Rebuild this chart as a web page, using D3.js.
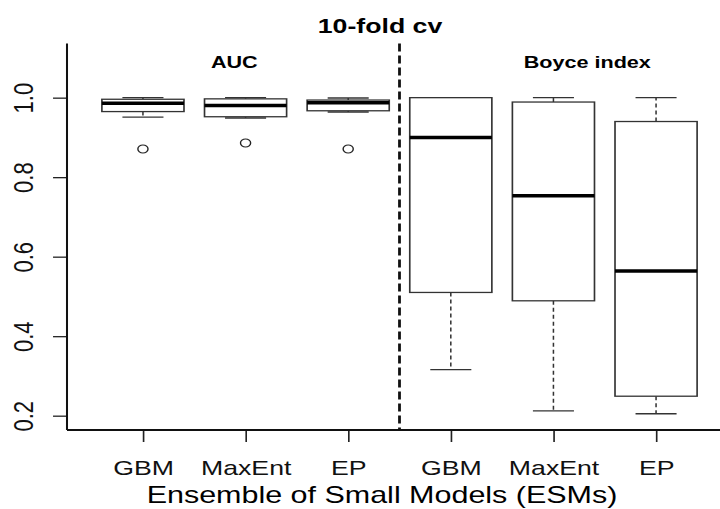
<!DOCTYPE html>
<html>
<head>
<meta charset="utf-8">
<script src="https://cdn.jsdelivr.net/npm/d3@7"></script>
<style>
  body { margin: 0; background: #fff; }
  svg { display: block; font-family: "Liberation Sans", Arial, Helvetica, sans-serif; }
  .tick line { stroke: #222; stroke-width: 1.3; }
  .tick text { fill: #111; }
</style>
</head>
<body>
<div id="chart"></div>
<script>
  // models along the x axis (AUC block, then Boyce index block)
  const models = ['GBM', 'MaxEnt', 'EP', 'GBM', 'MaxEnt', 'EP'];
  const blocks = ['AUC', 'Boyce index'];

  // box statistics
  const lowerWhisker = [0.951, 0.949, 0.964, 0.316, 0.212, 0.205];
  const q1           = [0.965, 0.952, 0.967, 0.510, 0.489, 0.249];
  const median       = [0.986, 0.980, 0.987, 0.900, 0.753, 0.564];
  const q3           = [0.996, 0.997, 0.994, 1.000, 0.989, 0.940];
  const upperWhisker = [1.000, 1.000, 0.999, 1.000, 1.000, 1.000];
  const outliers     = [[0.871], [0.886], [0.871], [], [], []];

  const yTicks = [0.2, 0.4, 0.6, 0.8, 1.0];

  const W = 720, H = 509;
  const SX = 1.27; // the original figure is stretched horizontally

  const boxes = models.map((m, i) => ({
    pos: i + 1, model: m,
    lo: lowerWhisker[i], q1: q1[i], med: median[i], q3: q3[i], hi: upperWhisker[i],
    out: outliers[i]
  }));

  const x = d3.scaleLinear().domain([0.26, 6.74]).range([67 / SX, 732 / SX]);
  const y = d3.scaleLinear().domain([0.164, 1.136]).range([430, 43.6]);

  const svg = d3.select('#chart').append('svg')
    .attr('width', W).attr('height', H);

  const g = svg.append('g').attr('transform', `scale(${SX},1)`);

  // y axis
  g.append('g')
    .attr('transform', `translate(${x(0.26)},0)`)
    .call(d3.axisLeft(y).tickValues(yTicks).tickFormat(d3.format('.1f')).tickSize(11))
    .call(a => a.select('.domain').remove())
    .call(a => a.selectAll('text')
      .attr('transform', 'rotate(-90)')
      .attr('text-anchor', 'middle')
      .attr('x', 0).attr('y', -26.5).attr('dy', 0)
      .style('font-size', '22px'));

  // x axis
  g.append('g')
    .attr('transform', `translate(0,${y(0.164)})`)
    .call(d3.axisBottom(x).tickValues(boxes.map(b => b.pos)).tickFormat(d => models[d - 1]).tickSize(12))
    .call(a => a.select('.domain').remove())
    .call(a => a.selectAll('text')
      .attr('y', 45).attr('dy', 0)
      .style('font-size', '21px'));

  // L-shaped frame
  g.append('line')
    .attr('x1', x(0.26)).attr('x2', x(0.26))
    .attr('y1', y(1.136)).attr('y2', y(0.164))
    .attr('stroke', '#111').attr('stroke-width', 1.6);
  g.append('line')
    .attr('x1', x(0.26)).attr('x2', x(6.74))
    .attr('y1', y(0.164)).attr('y2', y(0.164))
    .attr('stroke', '#111').attr('stroke-width', 2);

  // separator between the two blocks
  g.append('line')
    .attr('x1', x(3.5)).attr('x2', x(3.5))
    .attr('y1', y(1.136)).attr('y2', y(0.164))
    .attr('stroke', '#111').attr('stroke-width', 2.2)
    .attr('stroke-dasharray', '8,4');

  const bw = 0.4, sw = 0.2;
  const bx = g.selectAll('.box').data(boxes).join('g').attr('class', 'box');

  // whiskers
  bx.append('line')
    .attr('x1', d => x(d.pos)).attr('x2', d => x(d.pos))
    .attr('y1', d => y(d.q3)).attr('y2', d => y(d.hi))
    .attr('stroke', '#333').attr('stroke-width', 1.2).attr('stroke-dasharray', '4,3');
  bx.append('line')
    .attr('x1', d => x(d.pos)).attr('x2', d => x(d.pos))
    .attr('y1', d => y(d.q1)).attr('y2', d => y(d.lo))
    .attr('stroke', '#333').attr('stroke-width', 1.2).attr('stroke-dasharray', '4,3');
  // staples
  bx.selectAll('.cap').data(d => [d.lo, d.hi].map(v => ({ pos: d.pos, v })))
    .join('line').attr('class', 'cap')
    .attr('x1', d => x(d.pos - sw)).attr('x2', d => x(d.pos + sw))
    .attr('y1', d => y(d.v)).attr('y2', d => y(d.v))
    .attr('stroke', '#333').attr('stroke-width', 1.4);
  // box
  bx.append('rect')
    .attr('x', d => x(d.pos - bw)).attr('width', d => x(d.pos + bw) - x(d.pos - bw))
    .attr('y', d => y(d.q3)).attr('height', d => y(d.q1) - y(d.q3))
    .attr('fill', '#fff').attr('stroke', '#333').attr('stroke-width', 1.3);
  // median
  bx.append('line')
    .attr('x1', d => x(d.pos - bw)).attr('x2', d => x(d.pos + bw))
    .attr('y1', d => y(d.med)).attr('y2', d => y(d.med))
    .attr('stroke', '#000').attr('stroke-width', 3.5);
  // outliers
  bx.selectAll('circle').data(d => d.out.map(v => ({ pos: d.pos, v })))
    .join('circle')
    .attr('cx', d => x(d.pos)).attr('cy', d => y(d.v)).attr('r', 4)
    .attr('fill', 'none').attr('stroke', '#222').attr('stroke-width', 1.1);

  // block labels
  g.selectAll('.block').data(blocks).join('text').attr('class', 'block')
    .attr('x', (d, i) => x(i === 0 ? 1.89 : 5.33)).attr('y', 68)
    .attr('text-anchor', 'middle')
    .style('font-size', '17px').style('font-weight', 'bold')
    .text(d => d);

  // title and x label
  g.append('text')
    .attr('x', 380 / SX).attr('y', 33).attr('text-anchor', 'middle')
    .style('font-size', '21px').style('font-weight', 'bold')
    .text('10-fold cv');
  g.append('text')
    .attr('x', 382 / SX).attr('y', 503).attr('text-anchor', 'middle')
    .style('font-size', '24px')
    .text('Ensemble of Small Models (ESMs)');
</script>
</body>
</html>
